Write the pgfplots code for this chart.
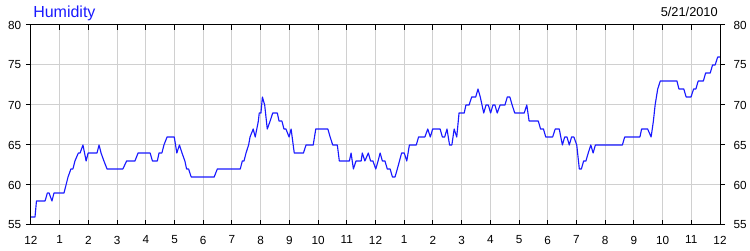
\documentclass[border=0pt]{standalone}
\usepackage{fontspec}
\setmainfont{Liberation Sans}
\usepackage{pgfplots}
\pgfplotsset{compat=1.18}
\definecolor{lineblue}{RGB}{25,25,255}
\definecolor{gridgray}{RGB}{208,208,208}
\begin{document}
\begin{tikzpicture}[x=1pt,y=1pt]
\useasboundingbox (0,0) rectangle (562.5,187.5);
\pgfplotsset{
  myaxis/.style={
    scale only axis, width=516.75pt, height=150pt,
    at={(23.25pt,18.75pt)}, anchor=south west,
    xmin=0, xmax=24, ymin=55, ymax=80,
    axis line style={black, line width=0.75pt},
    major tick length=3.75pt,
    /pgf/number format/assume math mode=true,
    tick label style={font=\fontsize{8.8}{10}\selectfont, text=black},
  }
}
\begin{axis}[myaxis,
  tick align=inside,
  xtick={0,1,...,24},
  xticklabels={12,1,2,3,4,5,6,7,8,9,10,11,12,1,2,3,4,5,6,7,8,9,10,11,12},
  ytick={55,60,...,80},
  ytick style={draw=none},
  xtick style={black, line width=0.75pt},
  grid=major, grid style={gridgray, line width=0.75pt},
  yticklabel style={xshift=-3.8pt},
  xticklabel style={yshift=-4.6pt},
]
\addplot[lineblue, line width=0.85pt, line join=round] coordinates {
(0.00,56) (0.14,56) (0.19,58) (0.49,58) (0.57,59) (0.63,59) (0.73,58) (0.80,59)
(1.15,59) (1.22,60) (1.29,61) (1.39,62) (1.46,62) (1.53,63) (1.65,64) (1.71,64)
(1.81,65) (1.92,63) (1.99,64) (2.30,64) (2.37,65) (2.44,64) (2.54,63) (2.65,62)
(3.20,62) (3.33,63) (3.62,63) (3.73,64) (4.15,64) (4.23,63) (4.40,63) (4.46,64)
(4.56,64) (4.63,65) (4.74,66) (4.99,66) (5.08,64) (5.17,65) (5.26,64) (5.36,63)
(5.42,62) (5.49,62) (5.58,61) (6.38,61) (6.49,62) (7.29,62) (7.36,63) (7.42,63)
(7.49,64) (7.58,65) (7.63,66) (7.74,67) (7.81,66) (7.92,68) (7.95,69) (8.01,69)
(8.06,71) (8.14,70) (8.23,67) (8.33,68) (8.42,69) (8.58,69) (8.64,68) (8.74,68)
(8.81,67) (8.88,67) (8.99,66) (9.06,67) (9.17,64) (9.49,64) (9.58,65) (9.83,65)
(9.92,67) (10.34,67) (10.42,66) (10.51,65) (10.67,65) (10.74,63) (11.09,63) (11.15,64)
(11.23,62) (11.32,63) (11.50,63) (11.54,64) (11.63,63) (11.75,64) (11.83,63) (11.91,63)
(12.01,62) (12.09,63) (12.16,64) (12.24,63) (12.33,63) (12.41,62) (12.51,62) (12.59,61)
(12.68,61) (12.76,62) (12.91,64) (13.00,64) (13.09,63) (13.18,65) (13.42,65) (13.50,66)
(13.72,66) (13.82,67) (13.91,66) (13.99,67) (14.25,67) (14.33,66) (14.41,66) (14.49,67)
(14.58,65) (14.66,65) (14.74,67) (14.83,66) (14.91,69) (15.09,69) (15.15,70) (15.26,70)
(15.35,71) (15.49,71) (15.57,72) (15.65,71) (15.77,69) (15.85,70) (15.93,70) (16.01,69)
(16.09,70) (16.16,70) (16.24,69) (16.34,70) (16.51,70) (16.59,71) (16.68,71) (16.76,70)
(16.85,69) (17.18,69) (17.27,70) (17.35,68) (17.67,68) (17.75,67) (17.85,67) (17.93,66)
(18.17,66) (18.26,67) (18.40,67) (18.51,65) (18.59,66) (18.67,66) (18.75,65) (18.83,66)
(18.91,66) (19.01,65) (19.10,62) (19.17,62) (19.25,63) (19.33,63) (19.41,64) (19.50,65)
(19.58,64) (19.66,65) (20.60,65) (20.68,66) (21.21,66) (21.27,67) (21.48,67) (21.60,66)
(21.68,68) (21.74,70) (21.83,72) (21.92,73) (22.50,73) (22.57,72) (22.74,72) (22.82,71)
(22.99,71) (23.08,72) (23.16,72) (23.24,73) (23.42,73) (23.50,74) (23.66,74) (23.74,75)
(23.83,75) (23.92,76) (24.00,76)
};
\end{axis}
\begin{axis}[myaxis,
  tick align=outside,
  xtick=\empty,
  ytick={55,60,...,80},
  yticklabel pos=right,
  ytick style={black, line width=0.75pt},
  yticklabel style={xshift=2.9pt},
]
\end{axis}
\node[anchor=base west, inner sep=0, font=\fontsize{12}{14}\selectfont, text=lineblue] at (24.75,174.2) {Humidity};
\node[anchor=base east, inner sep=0, font=\fontsize{9.6}{11}\selectfont, text=black] at (538.5,175) {5/21/2010};
\end{tikzpicture}
\end{document}
